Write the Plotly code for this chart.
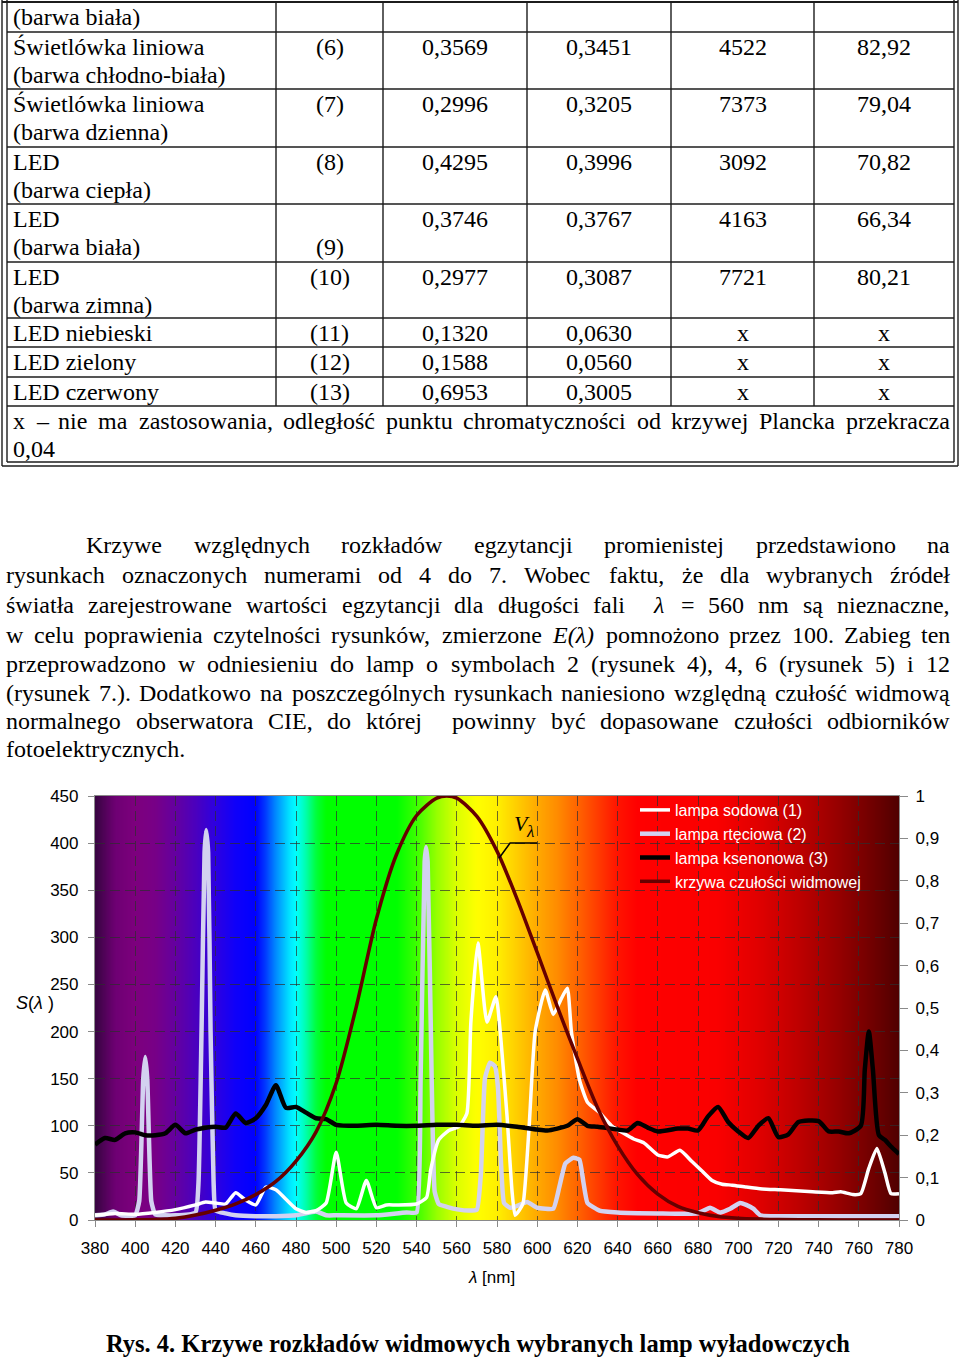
import re
import zlib
import struct
import base64
import plotly.graph_objects as go

FIG_W, FIG_H = 960, 1357

# ---------------- chart data ----------------
# lampa sodowa (1)
SOD_WL = [380, 390, 400, 410, 420, 430, 435, 440, 445, 450, 455, 460, 465, 470, 475, 480, 485, 490,
          495, 500, 505, 510, 515, 520, 525, 530, 540, 545, 547, 551, 556, 561, 565, 567, 570.5,
          575, 579.5, 582, 585, 587.5, 589, 591, 593, 596, 599, 604, 608, 612, 615, 617, 621,
          625, 631, 637, 643, 648, 653, 660, 665, 671, 677, 682, 687, 692, 697, 704, 712, 721,
          737, 747, 751, 757, 761, 765, 769, 773, 776, 780]
SOD_VAL = [5, 7, 6, 8, 11, 16, 19, 18, 17, 29, 21, 16, 35, 32, 22, 12, 8, 10,
           18, 72, 18, 12, 42, 13, 16, 16, 17, 24, 53, 85, 95, 99, 113, 210, 294,
           210, 237, 190, 110, 30, 5, 10, 18, 100, 200, 244, 218, 235, 246, 200, 149,
           125, 114, 100, 92, 86, 82, 69, 67, 74, 62, 52, 42, 38, 37, 35, 33, 32,
           30, 29, 30, 27, 28, 55, 76, 50, 28, 28]

# lampa rtęciowa (2)
HG_WL = [380, 385, 389, 393, 400, 402, 404, 405, 406, 408, 410, 420, 430, 431.5, 433, 434.5, 435.3,
         436.3, 437.5, 439, 440, 445, 450, 460, 470, 480, 490, 495, 500, 520, 535, 540, 542, 544,
         544.7, 545.5, 547.5, 549, 551, 555, 561, 566, 570, 572, 574, 576.5, 579, 580.5, 582,
         583.5, 586.5, 590, 595, 600, 608, 611, 614, 618, 621, 623, 625, 631, 640, 660, 680,
         686, 691, 696, 701, 704, 707.5, 711, 720, 780]
HG_VAL = [5, 6, 9, 5, 5, 20, 150, 173, 150, 20, 6, 5, 8, 40, 200, 390, 414,
          390, 200, 40, 10, 7, 5, 4, 4, 5, 9, 5, 5, 5, 8, 8, 150, 380,
          396, 380, 150, 30, 17, 14, 11, 10, 11, 50, 150, 167, 163, 140, 60,
          18, 13, 15, 19, 13, 12, 35, 60, 66, 64, 40, 18, 10, 8, 7, 7,
          13, 8, 12, 18, 16, 12, 5, 4, 4]

# lampa ksenonowa (3)
XE_WL = [380, 385, 390, 395, 400, 405, 410, 415, 420, 425, 430, 435, 440, 445, 450, 455, 460, 465,
         470, 475, 480, 485, 490, 495, 500, 510, 520, 530, 540, 550, 560, 570, 580, 590, 600,
         605, 615, 620, 625, 630, 640, 645, 650, 655, 660, 670, 675, 680, 685, 690, 695, 700,
         705, 710, 715, 720, 725, 730, 740, 745, 750, 755, 761, 763, 765, 767, 770, 773, 776, 780]
XE_VAL = [80, 87, 85, 92, 93, 90, 90, 92, 101, 92, 96, 98, 99, 98, 113, 103, 108, 122,
          143, 119, 120, 114, 108, 107, 101, 100, 101, 100, 100, 101, 101, 100, 101, 99, 96,
          95, 100, 107, 100, 99, 96, 95, 103, 98, 94, 97, 97, 95, 110, 120, 104, 94,
          87, 100, 108, 88, 91, 104, 105, 94, 94, 92, 100, 160, 200, 160, 90, 85, 78, 70]

# krzywa czułości widmowej V(lambda) – right axis
V_WL = [380, 390, 400, 410, 420, 430, 440, 450, 460, 470, 480, 490, 500, 510, 520, 530, 540, 550,
        555, 560, 570, 580, 590, 600, 610, 620, 630, 640, 650, 660, 670, 680, 690, 700, 710,
        720, 740, 760, 780]
V_VAL = [0.0, 0.0001, 0.0004, 0.0012, 0.004, 0.0116, 0.023, 0.038, 0.060, 0.091, 0.139, 0.208,
         0.323, 0.503, 0.710, 0.862, 0.954, 0.995, 1.0, 0.995, 0.952, 0.870, 0.757, 0.631,
         0.503, 0.381, 0.265, 0.175, 0.107, 0.061, 0.032, 0.017, 0.0082, 0.0041, 0.0021,
         0.0010, 0.0003, 0.0001, 0.0]

SERIES_NAMES = ["lampa sodowa (1)", "lampa rtęciowa (2)", "lampa ksenonowa (3)",
                "krzywa czułości widmowej"]

X_TICKS = list(range(380, 781, 20))
Y_TICKS = list(range(0, 451, 50))
Y2_TICKVALS = [0, 0.1, 0.2, 0.3, 0.4, 0.5, 0.6, 0.7, 0.8, 0.9, 1]
Y2_TICKTEXT = ["0", "0,1", "0,2", "0,3", "0,4", "0,5", "0,6", "0,7", "0,8", "0,9", "1"]

# spectrum background colour stops
SPEC_WL = [380, 390, 400, 410, 420, 430, 440, 450, 460, 465, 470, 477, 480, 485, 490, 495,
           530, 540, 550, 560, 570, 580, 590, 600, 610, 620, 630, 640, 650, 690, 710, 730,
           750, 770, 780]
SPEC_RGB = [(55, 5, 65), (110, 0, 115), (125, 0, 125), (120, 0, 135), (100, 0, 160),
            (75, 0, 190), (45, 0, 225), (15, 0, 250), (0, 0, 255), (0, 60, 255),
            (0, 140, 255), (0, 230, 255), (0, 255, 255), (0, 255, 170), (0, 255, 60),
            (0, 255, 0), (0, 255, 0), (60, 255, 0), (150, 255, 0), (220, 255, 0),
            (255, 255, 0), (255, 240, 0), (255, 205, 0), (255, 170, 0), (255, 140, 0),
            (255, 100, 0), (255, 60, 0), (255, 20, 0), (255, 0, 0), (250, 0, 0),
            (225, 0, 0), (190, 0, 0), (150, 0, 0), (105, 0, 0), (80, 0, 0)]

# ---------------- table data ----------------
TAB_NAME1 = ["(barwa biała)", "Świetlówka liniowa", "Świetlówka liniowa", "LED", "LED", "LED",
             "LED niebieski", "LED zielony", "LED czerwony"]
TAB_NAME2 = ["", "(barwa chłodno-biała)", "(barwa dzienna)", "(barwa ciepła)", "(barwa biała)",
             "(barwa zimna)", "", "", ""]
TAB_SYMBOL = ["", "(6)", "(7)", "(8)", "(9)", "(10)", "(11)", "(12)", "(13)"]
TAB_SYMBOL_LINE = [1, 1, 1, 1, 2, 1, 1, 1, 1]
TAB_X = ["", "0,3569", "0,2996", "0,4295", "0,3746", "0,2977", "0,1320", "0,1588", "0,6953"]
TAB_Y = ["", "0,3451", "0,3205", "0,3996", "0,3767", "0,3087", "0,0630", "0,0560", "0,3005"]
TAB_TC = ["", "4522", "7373", "3092", "4163", "7721", "x", "x", "x"]
TAB_RA = ["", "82,92", "79,04", "70,82", "66,34", "80,21", "x", "x", "x"]
TAB_NOTE = ["x – nie ma zastosowania, odległość punktu chromatyczności od krzywej Plancka przekracza",
            "0,04"]

PARA_LINES = [
    "Krzywe względnych rozkładów egzytancji promienistej przedstawiono na",
    "rysunkach oznaczonych numerami od 4 do 7. Wobec faktu, że dla wybranych źródeł",
    "światła zarejestrowane wartości egzytancji dla długości fali  <i>λ</i> = 560 nm są nieznaczne,",
    "w celu poprawienia czytelności rysunków, zmierzone <i>E(λ)</i> pomnożono przez 100. Zabieg ten",
    "przeprowadzono w odniesieniu do lamp o symbolach 2 (rysunek 4), 4, 6 (rysunek 5) i 12",
    "(rysunek 7.). Dodatkowo na poszczególnych rysunkach naniesiono względną czułość widmową",
    "normalnego obserwatora CIE, do której  powinny być dopasowane czułości odbiorników",
    "fotoelektrycznych.",
]
CAPTION = "Rys. 4. Krzywe rozkładów widmowych wybranych lamp wyładowczych"

# ---------------- styles / layout helpers ----------------
SERIF = "Liberation Serif, Times New Roman, serif"
SANS = "Liberation Sans, Arial, sans-serif"

# Times metrics (1/1000 em) used to justify text lines
TW = dict(zip("abcdefghijklmnopqrstuvwxyz",
              [444, 500, 444, 500, 444, 333, 500, 500, 278, 278, 500, 278, 778, 500, 500, 500,
               500, 333, 389, 278, 500, 500, 722, 500, 500, 444]))
TW.update(dict(zip("ABCDEFGHIJKLMNOPQRSTUVWXYZ",
                   [722, 667, 667, 722, 611, 556, 722, 722, 333, 389, 722, 611, 889, 722, 722,
                    556, 722, 667, 556, 611, 722, 722, 944, 722, 722, 611])))
TW.update({c: 500 for c in "0123456789"})
TW.update({" ": 250, ",": 250, ".": 250, "(": 333, ")": 333, "–": 500, "=": 564, "-": 333,
           ":": 278, "ą": 444, "ć": 444, "ę": 444, "ł": 278, "ń": 500, "ó": 500, "ś": 389,
           "ź": 444, "ż": 444, "Ś": 556, "λ": 549})


def text_w(s, size):
    plain = re.sub(r"<[^>]+>", "", s)
    return sum(TW.get(c, 500) for c in plain) * size / 1000.0


def px(x):
    return x / FIG_W


def py(y):
    return 1 - y / FIG_H


annotations = []


def add_text(text, x, y, size, family=SERIF, xanchor="left", color="black"):
    annotations.append(dict(text=text, x=px(x), y=py(y), xref="paper", yref="paper",
                            xanchor=xanchor, yanchor="middle", showarrow=False,
                            borderpad=0, borderwidth=0,
                            font=dict(family=family, size=size, color=color)))


def add_justified(line, x0, x1, y, size, last=False):
    tokens = line.split(" ")
    widths = [text_w(t, size) for t in tokens]
    if last or len(tokens) < 2:
        gap = 0.25 * size
    else:
        gap = (x1 - x0 - sum(widths)) / (len(tokens) - 1)
    x = x0
    for i, (t, w) in enumerate(zip(tokens, widths)):
        if t:
            if (not last) and i == len(tokens) - 1 and len(tokens) > 1:
                add_text(t, x1, y, size, xanchor="right")
            else:
                add_text(t, x, y, size)
        x += w + gap


shapes = []


def hline(y, x0, x1, w=1.4):
    shapes.append(dict(type="line", xref="paper", yref="paper", x0=px(x0), x1=px(x1),
                       y0=py(y), y1=py(y), line=dict(color="#1c1c1c", width=w)))


def vline(x, y0, y1, w=1.4):
    shapes.append(dict(type="line", xref="paper", yref="paper", x0=px(x), x1=px(x),
                       y0=py(y0), y1=py(y1), line=dict(color="#1c1c1c", width=w)))


# ---------------- table ----------------
COL_X = [7, 276, 383, 527, 671, 814, 954]
ROW_TOP = [2, 32, 89, 147, 204, 262, 318, 347, 377, 406, 462]
TSIZE = 24

hline(2, 2, 958, 1.8)
for yy in ROW_TOP[1:-1]:
    hline(yy, 7, 954)
hline(462, 7, 954)
hline(466, 2, 958)
vline(2, 0, 466)
vline(7, 0, 462)
vline(954, 0, 462)
vline(958, 0, 466)
for xx in COL_X[1:-1]:
    vline(xx, 2, 406)

col_centers = [(COL_X[i] + COL_X[i + 1]) / 2 for i in range(1, 6)]
for r in range(len(TAB_NAME1)):
    top = ROW_TOP[r]
    l1, l2 = top + 15, top + 43
    add_text(TAB_NAME1[r], 13, l1, TSIZE)
    if TAB_NAME2[r]:
        add_text(TAB_NAME2[r], 13, l2, TSIZE)
    if TAB_SYMBOL[r]:
        add_text(TAB_SYMBOL[r], col_centers[0], l1 if TAB_SYMBOL_LINE[r] == 1 else l2,
                 TSIZE, xanchor="center")
    for c, col in enumerate([TAB_X, TAB_Y, TAB_TC, TAB_RA]):
        if col[r]:
            add_text(col[r], col_centers[c + 1], l1, TSIZE, xanchor="center")

add_justified(TAB_NOTE[0], 13, 950, 421, TSIZE)
add_justified(TAB_NOTE[1], 13, 950, 449, TSIZE, last=True)

# ---------------- paragraph ----------------
PARA_Y = [545, 575, 605, 635, 664, 693, 721, 749]
for i, line in enumerate(PARA_LINES):
    x0 = 86 if i == 0 else 6
    add_justified(line, x0, 950, PARA_Y[i], 24, last=(i == len(PARA_LINES) - 1))

# caption
annotations.append(dict(text="<b>" + CAPTION + "</b>", x=px(478), y=py(1343), xref="paper",
                        yref="paper", xanchor="center", yanchor="middle", showarrow=False,
                        font=dict(family=SERIF, size=24.5, color="black")))

# ---------------- chart annotations ----------------
add_text("<i>S</i>(<i>λ</i> )", 35, 1003, 18, family=SANS, xanchor="center")
add_text("<i>λ</i> [nm]", 492, 1277, 17, family=SANS, xanchor="center")
annotations.append(dict(text="<i>V</i>", x=592.4, y=421, xref="x", yref="y", showarrow=False,
                        xanchor="center", yanchor="middle",
                        font=dict(family=SERIF, size=22, color="black")))
annotations.append(dict(text="<i>λ</i>", x=596.5, y=412, xref="x", yref="y", showarrow=False,
                        xanchor="center", yanchor="middle",
                        font=dict(family=SERIF, size=17, color="black")))
shapes.append(dict(type="path", xref="x", yref="y", path="M 600,400 L 586.5,400 L 581,384",
                   line=dict(color="black", width=1.5), layer="above"))


# ---------------- spectrum background image ----------------
def spectrum_rgb(l):
    for i in range(len(SPEC_WL) - 1):
        if SPEC_WL[i] <= l <= SPEC_WL[i + 1]:
            t = (l - SPEC_WL[i]) / (SPEC_WL[i + 1] - SPEC_WL[i])
            return [int(round(a + (b - a) * t)) for a, b in zip(SPEC_RGB[i], SPEC_RGB[i + 1])]
    return list(SPEC_RGB[-1])


def make_png(w, h, row):
    def chunk(tag, data):
        c = struct.pack(">I", len(data)) + tag + data
        return c + struct.pack(">I", zlib.crc32(tag + data) & 0xFFFFFFFF)
    raw = b"".join(b"\x00" + bytes(row) for _ in range(h))
    return (b"\x89PNG\r\n\x1a\n" + chunk(b"IHDR", struct.pack(">IIBBBBB", w, h, 8, 2, 0, 0, 0))
            + chunk(b"IDAT", zlib.compress(raw)) + chunk(b"IEND", b""))


row = []
n_px = 400
for i in range(n_px):
    row += spectrum_rgb(380 + (i + 0.5) * 400 / n_px)
png = make_png(n_px, 2, row)
img_src = "data:image/png;base64," + base64.b64encode(png).decode()

# ---------------- figure ----------------
fig = go.Figure()
fig.add_trace(go.Scatter(x=HG_WL, y=HG_VAL, name=SERIES_NAMES[1], mode="lines", legendrank=2,
                         line=dict(color="#d3d2f0", width=4.5, shape="spline", smoothing=0.4)))
fig.add_trace(go.Scatter(x=SOD_WL, y=SOD_VAL, name=SERIES_NAMES[0], mode="lines", legendrank=1,
                         line=dict(color="white", width=3.5, shape="spline", smoothing=0.5)))
fig.add_trace(go.Scatter(x=XE_WL, y=XE_VAL, name=SERIES_NAMES[2], mode="lines", legendrank=3,
                         line=dict(color="black", width=4.5, shape="spline", smoothing=0.6)))
fig.add_trace(go.Scatter(x=V_WL, y=V_VAL, name=SERIES_NAMES[3], mode="lines", yaxis="y2",
                         legendrank=4,
                         line=dict(color="#660000", width=3.5, shape="spline", smoothing=0.8)))

AXIS_GRAY = "#8a8a8a"
GRID = "rgba(45,45,45,0.7)"
TICKFONT = dict(family=SANS, size=17, color="black")

fig.update_layout(
    width=FIG_W, height=FIG_H, template="none",
    margin=dict(l=0, r=0, t=0, b=0, autoexpand=False),
    paper_bgcolor="white", plot_bgcolor="rgba(0,0,0,0)",
    xaxis=dict(domain=[px(95), px(899)], range=[380, 780], tickvals=X_TICKS,
               ticks="outside", ticklen=6, tickcolor=AXIS_GRAY, tickwidth=1,
               showline=True, linecolor=AXIS_GRAY, linewidth=1.2, mirror=True,
               showgrid=True, gridcolor=GRID, griddash="10px,5px", gridwidth=1,
               zeroline=False, tickfont=TICKFONT, ticklabelstandoff=6, automargin=False),
    yaxis=dict(domain=[py(1220), py(796)], range=[0, 450], tickvals=Y_TICKS,
               ticks="outside", ticklen=6, tickcolor=AXIS_GRAY, tickwidth=1,
               showline=True, linecolor=AXIS_GRAY, linewidth=1.2,
               showgrid=True, gridcolor=GRID, griddash="10px,5px", gridwidth=1,
               zeroline=False, tickfont=TICKFONT, ticklabelstandoff=6, automargin=False),
    yaxis2=dict(overlaying="y", side="right", range=[0, 1], tickvals=Y2_TICKVALS,
                ticktext=Y2_TICKTEXT, ticks="outside", ticklen=8, tickcolor=AXIS_GRAY,
                showline=True, linecolor=AXIS_GRAY, linewidth=1.2, showgrid=False,
                zeroline=False, tickfont=TICKFONT, ticklabelstandoff=4, automargin=False),
    legend=dict(x=px(635), y=py(793), xanchor="left", yanchor="top",
                bgcolor="rgba(0,0,0,0)", borderwidth=0,
                font=dict(family=SANS, size=16, color="white"), itemclick=False),
    images=[dict(source=img_src, xref="x", yref="y", x=380, y=450, sizex=400, sizey=450,
                 xanchor="left", yanchor="top", sizing="stretch", layer="below")],
    shapes=shapes,
    annotations=annotations,
    showlegend=True,
)

fig.write_html("out.html", config={"displayModeBar": False},
               post_script="document.body.style.margin='0';document.body.style.overflow='hidden';")
